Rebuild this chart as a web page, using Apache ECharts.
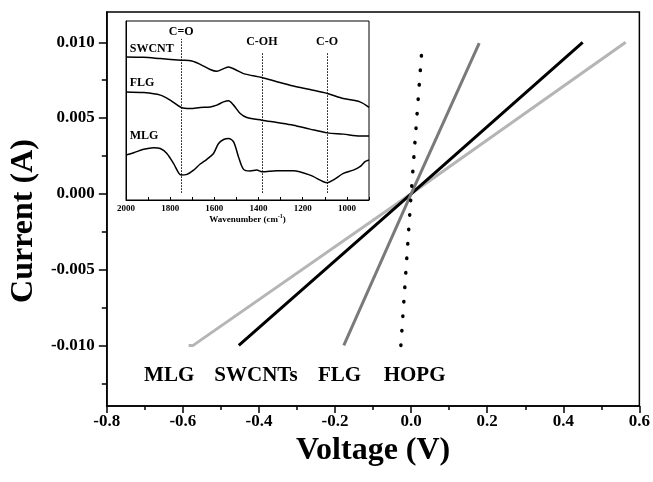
<!DOCTYPE html>
<html>
<head>
<meta charset="utf-8">
<script src="https://cdn.jsdelivr.net/npm/echarts@6/dist/echarts.min.js"></script>
<style>
    html, body { margin: 0; padding: 0; background: #fff; }
    #chart { width: 653px; height: 482px; }
</style>
</head>
<body>
<div id="chart"></div>
<script>
// I-V curves (voltage in V, current in A)
const mlgV = [-0.585, -0.573, 0.0, 0.564];
const mlgI = [-0.0100, -0.0100, 0.0, 0.0100];
const swcntV = [-0.453, 0.0, 0.451];
const swcntI = [-0.0100, 0.0, 0.0100];
const flgV = [-0.177, 0.0, 0.179];
const flgI = [-0.0100, 0.0, 0.00995];
const hopgV = [-0.027, 0.0, 0.029];
const hopgI = [-0.0100, 0.0, 0.0098];

// sample names written under the curves
const sampleNames = ['MLG', 'SWCNTs', 'FLG', 'HOPG'];
const sampleNameV = [-0.636, -0.408, -0.188, 0.009];
const sampleNameI = [-0.0120, -0.0120, -0.0120, -0.0120];

// tick values
const currentTicks = [-0.010, -0.005, 0.000, 0.005, 0.010];
const currentMinorTicks = [-0.0125, -0.0075, -0.0025, 0.0025, 0.0075];
const wnLabels = [2000, 1800, 1600, 1400, 1200, 1000];
const wnTicks = [2000, 1900, 1800, 1700, 1600, 1500, 1400, 1300, 1200, 1100, 1000, 900];

// inset FTIR spectra (wavenumber in cm-1, transmittance in a.u.)
const swcntWn = [2000, 1920, 1845, 1750, 1702, 1664, 1619, 1589, 1558, 1536, 1506, 1468, 1385, 1317, 1242, 1167, 1088, 1016, 941, 900];
const swcntT = [79.9, 79.7, 79.0, 78.1, 77.7, 75.8, 72.9, 71.9, 73.4, 74.3, 72.9, 70.6, 68.4, 66.1, 63.7, 61.7, 59.5, 56.7, 54.8, 51.7];
const flgWn = [2000, 1920, 1845, 1800, 1750, 1709, 1664, 1619, 1589, 1558, 1536, 1513, 1483, 1453, 1385, 1317, 1242, 1167, 1088, 1016, 941, 900];
const flgT = [60.4, 60.0, 58.6, 55.8, 51.7, 51.1, 51.7, 52.0, 53.0, 54.8, 55.4, 53.0, 48.3, 46.1, 44.6, 43.3, 41.8, 39.6, 37.5, 36.8, 35.7, 35.7];
const mlgWn = [2000, 1965, 1920, 1875, 1845, 1815, 1785, 1762, 1750, 1724, 1694, 1664, 1634, 1604, 1581, 1558, 1536, 1513, 1491, 1468, 1438, 1408, 1385, 1317, 1242, 1167, 1106, 1088, 1061, 1016, 971, 941, 918, 900];
const mlgT = [25.1, 26.4, 28.3, 29.2, 28.8, 26.0, 20.4, 15.2, 13.9, 14.3, 16.7, 20.1, 22.7, 26.0, 31.6, 33.8, 34.4, 32.5, 24.2, 17.1, 16.2, 16.7, 15.8, 16.4, 16.4, 13.9, 10.2, 9.7, 11.2, 14.9, 16.7, 18.6, 21.4, 22.3];

const curveNames = ['SWCNT', 'FLG', 'MLG'];
const curveNameWn = [1983, 1983, 1983];
const curveNameT = [84.2, 65.4, 35.7];

// functional group positions
const peakNames = ['C=O', 'C-OH', 'C-O'];
const peakWn = [1750, 1385, 1090];
const peakTop = [90, 82, 82];
const peakLabelT = [94, 88.5, 88.5];

const serif = '"Liberation Serif", "Times New Roman", serif';

function pairs(xs, ys) {
    return xs.map((x, i) => [x, ys[i]]);
}

var chart = echarts.init(document.getElementById('chart'));

var boldText = { fontFamily: serif, fontWeight: 'bold', color: '#000' };

// text-only scatter label
function textLabel(size, align) {
    return Object.assign({
        show: true, position: 'inside', align: align, fontSize: size, opacity: 1,
        textBorderWidth: 0, formatter: p => p.data[2]
    }, boldText);
}
var hiddenDot = { color: '#fff', opacity: 1 };

var option = {
    animation: false,
    grid: [
        { left: 106, right: 12, top: 12, bottom: 76, show: true, borderColor: '#000', borderWidth: 1.5, backgroundColor: 'transparent' },
        { left: 126, right: 284, top: 21, bottom: 282, show: true, borderColor: '#000', borderWidth: 1, backgroundColor: '#fff' }
    ],
    xAxis: [
        {
            gridIndex: 0, type: 'value', min: -0.8, max: 0.6, interval: 0.2,
            name: 'Voltage (V)', nameLocation: 'middle', nameGap: 24,
            nameTextStyle: Object.assign({ fontSize: 32 }, boldText),
            axisLine: { onZero: false, lineStyle: { color: '#000', width: 1.5 } },
            axisTick: { length: 7, lineStyle: { color: '#000', width: 1.5 } },
            minorTick: { show: true, splitNumber: 2, length: 4, lineStyle: { color: '#000', width: 1.5 } },
            axisLabel: Object.assign({ fontSize: 17, margin: 7, formatter: v => v.toFixed(1) }, boldText),
            splitLine: { show: false }
        },
        {
            gridIndex: 1, type: 'value', min: 900, max: 2000, inverse: true,
            name: 'Wavenumber (cm{sup|-1})', nameLocation: 'middle', nameGap: 13,
            nameTextStyle: Object.assign({ fontSize: 9, rich: { sup: { fontSize: 6, fontWeight: 'bold', fontFamily: serif, verticalAlign: 'top', padding: [0, 0, 5, 0] } } }, boldText),
            axisLine: { onZero: false, lineStyle: { color: '#000', width: 1 } },
            axisTick: { inside: true, length: 3, customValues: wnTicks, lineStyle: { color: '#000' } },
            axisLabel: Object.assign({ fontSize: 9, margin: 4, customValues: wnLabels, formatter: v => String(v) }, boldText),
            splitLine: { show: false }
        }
    ],
    yAxis: [
        {
            gridIndex: 0, type: 'value', min: -0.014, max: 0.012,
            name: 'Current (A)', nameLocation: 'middle', nameGap: 56,
            nameTextStyle: Object.assign({ fontSize: 32, padding: [0, 24, 0, 0] }, boldText),
            axisLine: { onZero: false, lineStyle: { color: '#000', width: 1.5 } },
            axisTick: { length: 8, customValues: currentTicks, lineStyle: { color: '#000', width: 1.5 } },
            axisLabel: Object.assign({ fontSize: 17, margin: 12, customValues: currentTicks, formatter: v => v.toFixed(3) }, boldText),
            splitLine: { show: false }
        },
        {
            gridIndex: 0, type: 'value', min: -0.014, max: 0.012, position: 'left',
            axisLine: { show: false, onZero: false },
            axisTick: { length: 5, customValues: currentMinorTicks, lineStyle: { color: '#000', width: 1.5 } },
            axisLabel: { show: false },
            splitLine: { show: false }
        },
        {
            gridIndex: 1, type: 'value', min: 0, max: 100,
            axisLine: { show: true, onZero: false, lineStyle: { color: '#000', width: 1 } },
            axisTick: { show: false },
            axisLabel: { show: false },
            splitLine: { show: false }
        }
    ],
    series: [
        {
            name: 'MLG', type: 'line', data: pairs(mlgV, mlgI), symbol: 'none',
            lineStyle: { color: '#b5b5b5', width: 3 }
        },
        {
            name: 'SWCNTs', type: 'line', data: pairs(swcntV, swcntI), symbol: 'none',
            lineStyle: { color: '#000', width: 3 }
        },
        {
            name: 'FLG', type: 'line', data: pairs(flgV, flgI), symbol: 'none',
            lineStyle: { color: '#7a7a7a', width: 3 }
        },
        {
            name: 'HOPG', type: 'line', data: pairs(hopgV, hopgI), symbol: 'none',
            lineStyle: { color: '#000', width: 3.5, type: [0.5, 14], cap: 'round' }
        },
        {
            // sample names under the curves
            type: 'scatter', symbolSize: 0, itemStyle: hiddenDot, silent: true,
            data: sampleNames.map((n, i) => [sampleNameV[i], sampleNameI[i], n]),
            label: textLabel(21, 'center')
        },
        {
            type: 'line', xAxisIndex: 1, yAxisIndex: 2, data: pairs(swcntWn, swcntT), symbol: 'none', smooth: 0.3,
            lineStyle: { color: '#000', width: 1.5 }
        },
        {
            type: 'line', xAxisIndex: 1, yAxisIndex: 2, data: pairs(flgWn, flgT), symbol: 'none', smooth: 0.3,
            lineStyle: { color: '#000', width: 1.5 }
        },
        {
            type: 'line', xAxisIndex: 1, yAxisIndex: 2, data: pairs(mlgWn, mlgT), symbol: 'none', smooth: 0.3,
            lineStyle: { color: '#000', width: 1.5 },
            markLine: {
                silent: true, symbol: 'none', label: { show: false },
                lineStyle: { color: '#000', width: 1, type: [1.5, 1.5] },
                data: peakWn.map((w, i) => [{ coord: [w, 4] }, { coord: [w, peakTop[i]] }])
            }
        },
        {
            // curve names in the inset
            type: 'scatter', xAxisIndex: 1, yAxisIndex: 2, symbolSize: 0, itemStyle: hiddenDot, silent: true,
            data: curveNames.map((n, i) => [curveNameWn[i], curveNameT[i], n]),
            label: textLabel(12, 'left')
        },
        {
            // functional group names
            type: 'scatter', xAxisIndex: 1, yAxisIndex: 2, symbolSize: 0, itemStyle: hiddenDot, silent: true,
            data: peakNames.map((n, i) => [peakWn[i], peakLabelT[i], n]),
            label: textLabel(12, 'center')
        }
    ]
};

chart.setOption(option);
</script>
</body>
</html>
